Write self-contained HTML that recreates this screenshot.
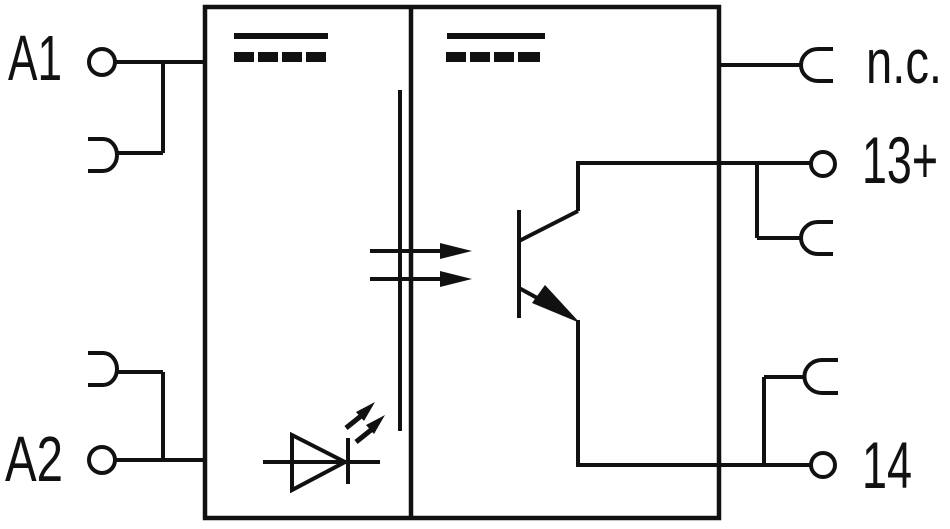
<!DOCTYPE html>
<html><head><meta charset="utf-8"><style>
html,body{margin:0;padding:0;background:#fff;}
svg{display:block}
text{font-family:"Liberation Sans",sans-serif;fill:#111}
</style></head><body>
<svg width="950" height="529" viewBox="0 0 950 529" xmlns="http://www.w3.org/2000/svg">
<g stroke="#111" stroke-width="4.5" fill="none">
<rect x="205" y="7" width="514" height="511"/>
<line x1="411" y1="7" x2="411" y2="518"/>
<line x1="234" y1="36" x2="328" y2="36" stroke-width="6"/>
<line x1="447" y1="36" x2="545" y2="36" stroke-width="6"/>
</g>
<g fill="#111">
<rect x="234" y="52" width="20" height="10"/><rect x="258" y="52" width="20" height="10"/><rect x="282" y="52" width="20" height="10"/><rect x="306" y="52" width="20" height="10"/>
<rect x="446" y="52" width="20" height="10"/><rect x="470" y="52" width="20" height="10"/><rect x="494" y="52" width="20" height="10"/><rect x="518" y="52" width="22" height="10"/>
</g>
<g stroke="#111" stroke-width="4" fill="none">
<circle cx="102" cy="62" r="13"/>
<line x1="115" y1="62" x2="205" y2="62"/>
<line x1="163" y1="62" x2="163" y2="153"/>
<line x1="117" y1="153" x2="163" y2="153"/>
<path d="M88 139 H103 A14 16 0 0 1 103 171 H88"/>
<circle cx="102" cy="460" r="13"/>
<line x1="115" y1="460" x2="205" y2="460"/>
<line x1="163" y1="372" x2="163" y2="460"/>
<line x1="117" y1="372" x2="163" y2="372"/>
<path d="M88 353 H103 A14 16 0 0 1 103 385 H88"/>
<line x1="400" y1="90" x2="400" y2="431"/>
<line x1="370" y1="251" x2="450" y2="251"/>
<line x1="370" y1="279" x2="450" y2="279"/>
<line x1="263" y1="462" x2="380" y2="462"/>
<path d="M292 435 L345 462 L292 490 Z"/>
<line x1="348" y1="438" x2="348" y2="484"/>
<line x1="346" y1="428" x2="366" y2="412" stroke-width="5"/>
<line x1="356" y1="442" x2="376" y2="426" stroke-width="5"/>
<line x1="519" y1="210" x2="519" y2="318"/>
<line x1="519" y1="241" x2="578" y2="211"/>
<line x1="578" y1="211" x2="578" y2="163"/>
<line x1="576" y1="163" x2="810" y2="163"/>
<line x1="519" y1="288" x2="550" y2="305"/>
<line x1="578" y1="320" x2="578" y2="465"/>
<line x1="576" y1="465" x2="810" y2="465"/>
<line x1="719" y1="65" x2="801" y2="65"/>
<path d="M833 49 H818 A17 16 0 0 0 818 81 H833"/>
<circle cx="823" cy="164" r="12"/>
<line x1="757" y1="163" x2="757" y2="238"/>
<line x1="757" y1="238" x2="801" y2="238"/>
<path d="M833 222 H818 A17 16 0 0 0 818 254 H833"/>
<circle cx="823" cy="465" r="12"/>
<line x1="764" y1="377" x2="764" y2="465"/>
<line x1="764" y1="377" x2="805" y2="377"/>
<path d="M838 360 H822 A17 16 0 0 0 822 393 H838"/>
</g>
<g fill="#111">
<polygon points="440,243 472,251 440,259"/>
<polygon points="440,271 472,279 440,287"/>
<polygon points="580,323 532,303 545,285"/>
<polygon points="375,402 364,421 356,412"/>
<polygon points="385,415 374,434 366,425"/>
</g>
<text x="8" y="80" font-size="64" textLength="54" lengthAdjust="spacingAndGlyphs">A1</text>
<text x="5" y="481" font-size="64" textLength="58" lengthAdjust="spacingAndGlyphs">A2</text>
<text x="866" y="83" font-size="62" textLength="76" lengthAdjust="spacingAndGlyphs">n.c.</text>
<text x="862" y="183" font-size="66" textLength="76" lengthAdjust="spacingAndGlyphs">13+</text>
<text x="862" y="488" font-size="66" textLength="50" lengthAdjust="spacingAndGlyphs">14</text>
</svg>
</body></html>
